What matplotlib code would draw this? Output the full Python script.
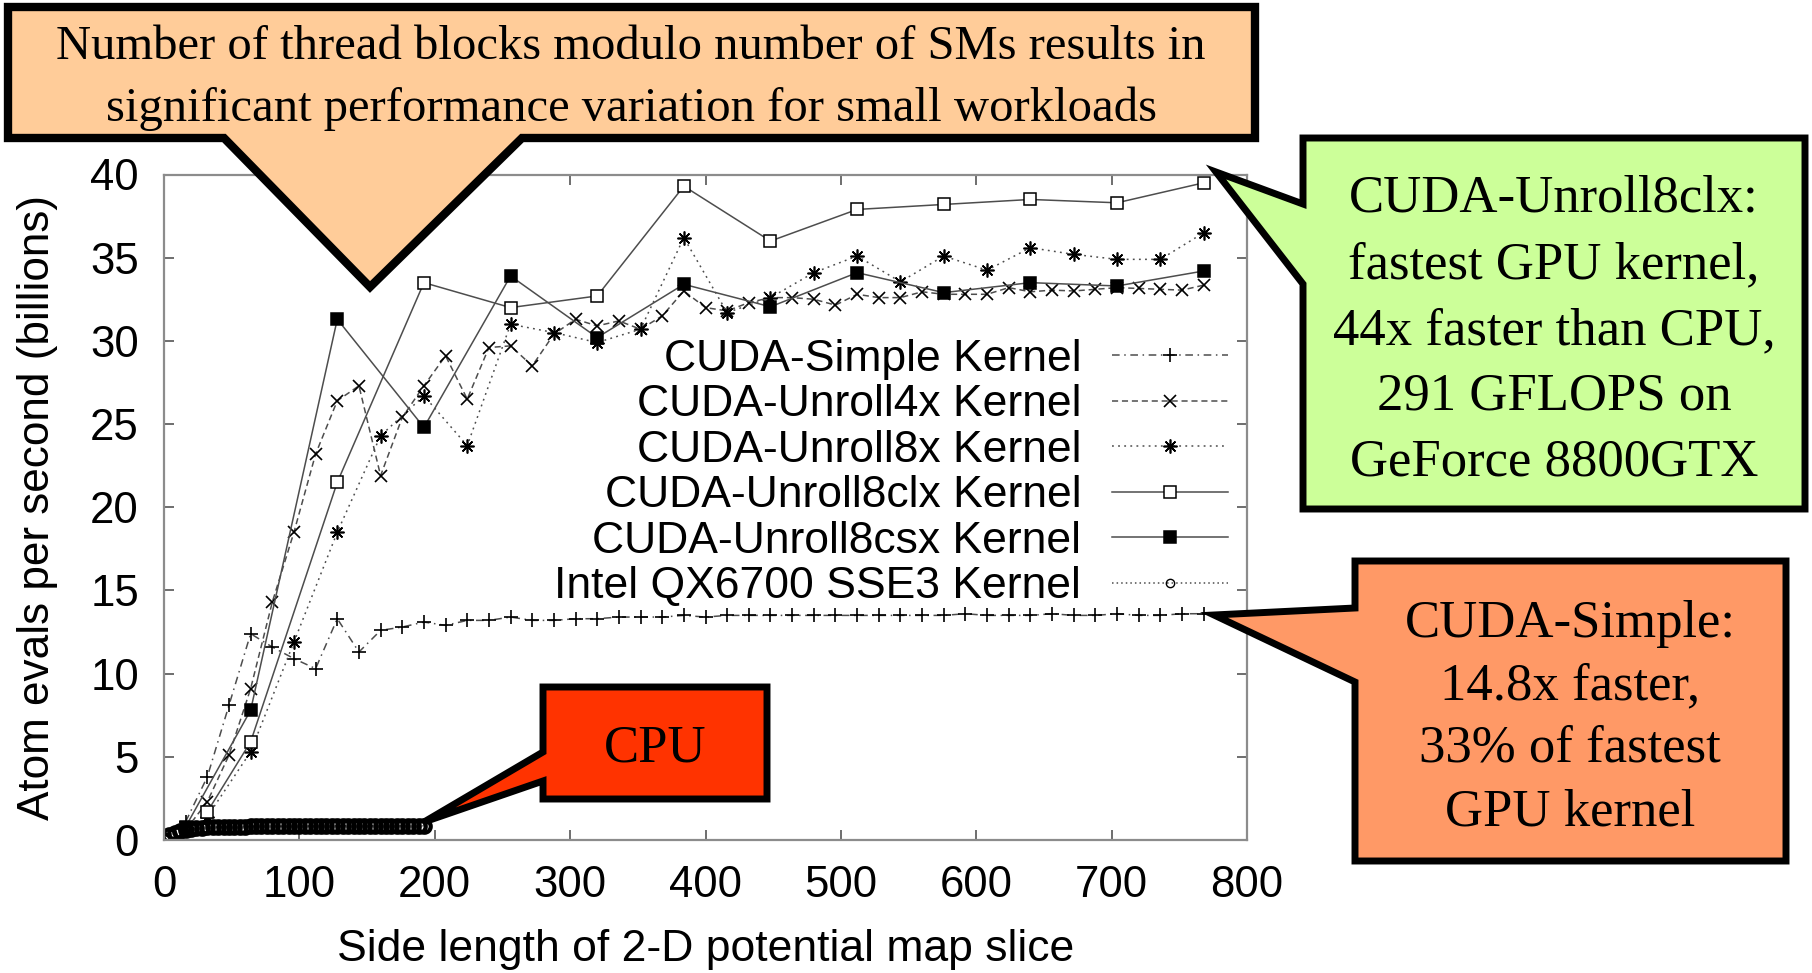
import matplotlib
matplotlib.use("Agg")
import matplotlib.pyplot as plt
from matplotlib.patches import Polygon

W, H = 1812, 973
DPI = 100

plt.rcParams['font.family'] = ['Liberation Sans', 'DejaVu Sans']

# ---------------------------------------------------------------- data
x_ticks = [0, 100, 200, 300, 400, 500, 600, 700, 800]
y_ticks = [0, 5, 10, 15, 20, 25, 30, 35, 40]

simple_x = [16, 32, 48, 64, 80, 96, 112, 128, 144, 160,
            176, 192, 208, 224, 240, 256, 272, 288, 304, 320,
            336, 352, 368, 384, 400, 416, 432, 448, 464, 480,
            496, 512, 528, 544, 560, 576, 592, 608, 624, 640,
            656, 672, 688, 704, 720, 736, 752, 768]
simple_y = [1.1, 3.8, 8.1, 12.4, 11.6, 10.9, 10.3, 13.3, 11.3, 12.6,
            12.8, 13.1, 12.9, 13.2, 13.2, 13.4, 13.2, 13.2, 13.3, 13.3,
            13.4, 13.4, 13.4, 13.5, 13.4, 13.5, 13.5, 13.5, 13.5, 13.5,
            13.5, 13.5, 13.5, 13.5, 13.5, 13.5, 13.6, 13.5, 13.5, 13.5,
            13.6, 13.5, 13.5, 13.6, 13.5, 13.5, 13.6, 13.6]

unroll4x_x = simple_x
unroll4x_y = [0.6, 2.3, 5.1, 9.1, 14.3, 18.5, 23.2, 26.4, 27.3, 21.9,
              25.4, 27.3, 29.1, 26.5, 29.6, 29.7, 28.5, 30.4, 31.3, 30.9,
              31.2, 30.7, 31.5, 33.0, 32.0, 31.8, 32.3, 32.6, 32.6, 32.5,
              32.15, 32.8, 32.6, 32.6, 32.95, 32.8, 32.8, 32.8, 33.2, 32.95,
              33.05, 33.0, 33.1, 33.2, 33.15, 33.1, 33.05, 33.35]

unroll8x_x = [32, 64, 96, 128, 160, 192, 224, 256, 288, 320, 352, 384,
              416, 448, 480, 512, 544, 576, 608, 640, 672, 704, 736, 768]
unroll8x_y = [1.4, 5.3, 11.9, 18.5, 24.3, 26.7, 23.7, 31.0, 30.5, 29.9, 30.7, 36.2,
              31.7, 32.6, 34.1, 35.1, 33.55, 35.1, 34.25, 35.6, 35.2, 34.9, 34.9, 36.5]

unroll8clx_x = [32, 64, 128, 192, 256, 320, 384, 448, 512, 576, 640, 704, 768]
unroll8clx_y = [1.7, 5.9, 21.5, 33.5, 32.0, 32.7, 39.3, 36.0, 37.9, 38.2, 38.5, 38.3, 39.5]

unroll8csx_x = [16, 64, 128, 192, 256, 320, 384, 448, 512, 576, 640, 704, 768]
unroll8csx_y = [0.8, 7.8, 31.3, 24.8, 33.9, 30.2, 33.4, 32.05, 34.1, 32.9, 33.5, 33.3, 34.2]

cpu_x = [0, 4, 8, 12, 16, 20, 24, 28, 32, 36, 40, 44, 48, 52, 56, 60, 64,
         68, 72, 76, 80, 84, 88, 92, 96, 100, 104, 108, 112, 116, 120, 124, 128,
         132, 136, 140, 144, 148, 152, 156, 160, 164, 168, 172, 176, 180, 184, 188, 192]
cpu_y = [0.0, 0.28, 0.45, 0.56, 0.63, 0.68, 0.71, 0.74, 0.76, 0.77, 0.78, 0.79, 0.80, 0.80, 0.81, 0.81, 0.82,
         0.82, 0.82, 0.83, 0.83, 0.83, 0.83, 0.84, 0.84, 0.84, 0.84, 0.84, 0.85, 0.85, 0.85, 0.85, 0.85,
         0.85, 0.85, 0.85, 0.85, 0.85, 0.85, 0.85, 0.85, 0.85, 0.85, 0.85, 0.85, 0.85, 0.85, 0.85, 0.85]

labels = ["CUDA-Simple Kernel", "CUDA-Unroll4x Kernel", "CUDA-Unroll8x Kernel",
          "CUDA-Unroll8clx Kernel", "CUDA-Unroll8csx Kernel", "Intel QX6700 SSE3 Kernel"]

# ---------------------------------------------------------------- figure
fig = plt.figure(figsize=(W / DPI, H / DPI), dpi=DPI)
ax = fig.add_axes([164 / W, 1 - 840 / H, (1247 - 164) / W, (840 - 174.5) / H])

line_col = '#4d4d4d'
common = dict(color=line_col, linewidth=1.1, markeredgecolor='black')

ax.plot(simple_x, simple_y, linestyle=(0, (5, 3, 1, 3)), marker='+', markersize=10.5,
        markeredgewidth=1.2, label=labels[0], **common)
ax.plot(unroll4x_x, unroll4x_y, linestyle=(0, (4, 2.5)), marker='x', markersize=8.5,
        markeredgewidth=1.2, label=labels[1], **common)
ax.plot(unroll8x_x, unroll8x_y, linestyle=(0, (1.2, 2.8)), marker=(8, 2, 0), markersize=10,
        markeredgewidth=1.2, label=labels[2], **common)
ax.plot(unroll8clx_x, unroll8clx_y, linestyle='-', marker='s', markersize=9,
        markerfacecolor='white', markeredgewidth=1.1, label=labels[3], **common)
ax.plot(unroll8csx_x, unroll8csx_y, linestyle='-', marker='s', markersize=9,
        markerfacecolor='black', markeredgewidth=1.1, label=labels[4], **common)
ax.plot(cpu_x, cpu_y, linestyle=(0, (1, 2)), marker='o', markersize=9,
        markerfacecolor='none', markeredgewidth=3.0, label=labels[5], **common)

ax.set_xlim(0, 800)
ax.set_ylim(0, 40)
ax.set_xticks(x_ticks)
ax.set_yticks(y_ticks)
ax.tick_params(direction='in', top=True, right=True, length=7, width=1.2,
               color='#555555', labelsize=31.5, pad=18)
for s in ax.spines.values():
    s.set_color('#8c8c8c')
    s.set_linewidth(1.6)

ax.set_xlabel("Side length of 2-D potential map slice", fontsize=32)
ax.set_ylabel("Atom evals per second (billions)", fontsize=31.8)
ax.xaxis.set_label_coords(0.5, -0.165)
ax.xaxis.label.set_verticalalignment('center')
ax.yaxis.set_label_coords(-0.117, 0.5)
ax.yaxis.label.set_verticalalignment('center')

leg = ax.legend(loc='upper right', bbox_to_anchor=(1228 / W, 1 - 339 / H),
                bbox_transform=fig.transFigure, markerfirst=False, frameon=False,
                handlelength=2.6, handletextpad=0.7, labelspacing=0.1, borderpad=0,
                borderaxespad=0, numpoints=1, fontsize=32)
# the CPU entry uses a small open circle in the key
cpu_key = leg.legend_handles[5]
cpu_key.set_markersize(6)
cpu_key.set_markeredgewidth(1.0)

# ---------------------------------------------------------------- callouts
def to_fig(x, y):
    return (x / W, 1 - y / H)


def callout(points, face, lw):
    poly = Polygon([to_fig(*p) for p in points], closed=True, transform=fig.transFigure,
                   facecolor=face, edgecolor='black', linewidth=lw, joinstyle='miter',
                   zorder=10)
    fig.add_artist(poly)


def box_text(x, y, s, size):
    fig.text(x / W, 1 - y / H, s, ha='center', va='baseline', fontsize=size,
             family=['Liberation Serif', 'DejaVu Serif'], zorder=11)


# top note on thread-block granularity
callout([(8, 7), (1255, 7), (1255, 138), (522, 138), (370, 287), (224, 138), (8, 138)],
        '#ffcc99', 6)
box_text(631, 59, "Number of thread blocks modulo number of SMs results in", 35)
box_text(631, 121, "significant performance variation for small workloads", 35)

# fastest GPU kernel
callout([(1303, 138), (1805, 138), (1805, 509), (1303, 509), (1303, 284), (1216, 172),
         (1303, 204)], '#ccff99', 5)
for yb, s in zip([211, 278, 344, 409, 475],
                 ["CUDA-Unroll8clx:", "fastest GPU kernel,", "44x faster than CPU,",
                  "291 GFLOPS on", "GeForce 8800GTX"]):
    box_text(1554, yb, s, 38)

# simple kernel
callout([(1355, 561), (1786, 561), (1786, 861), (1355, 861), (1355, 682), (1214, 615),
         (1355, 608)], '#ff9966', 5)
for yb, s in zip([637, 699, 762, 826],
                 ["CUDA-Simple:", "14.8x faster,", "33% of fastest", "GPU kernel"]):
    box_text(1570, yb, s, 38)

# CPU
callout([(543, 687), (767, 687), (767, 799), (543, 799), (543, 781), (424, 822),
         (543, 752)], '#ff3300', 5)
box_text(655, 762, "CPU", 38)

fig.savefig("out.png", dpi=DPI)
